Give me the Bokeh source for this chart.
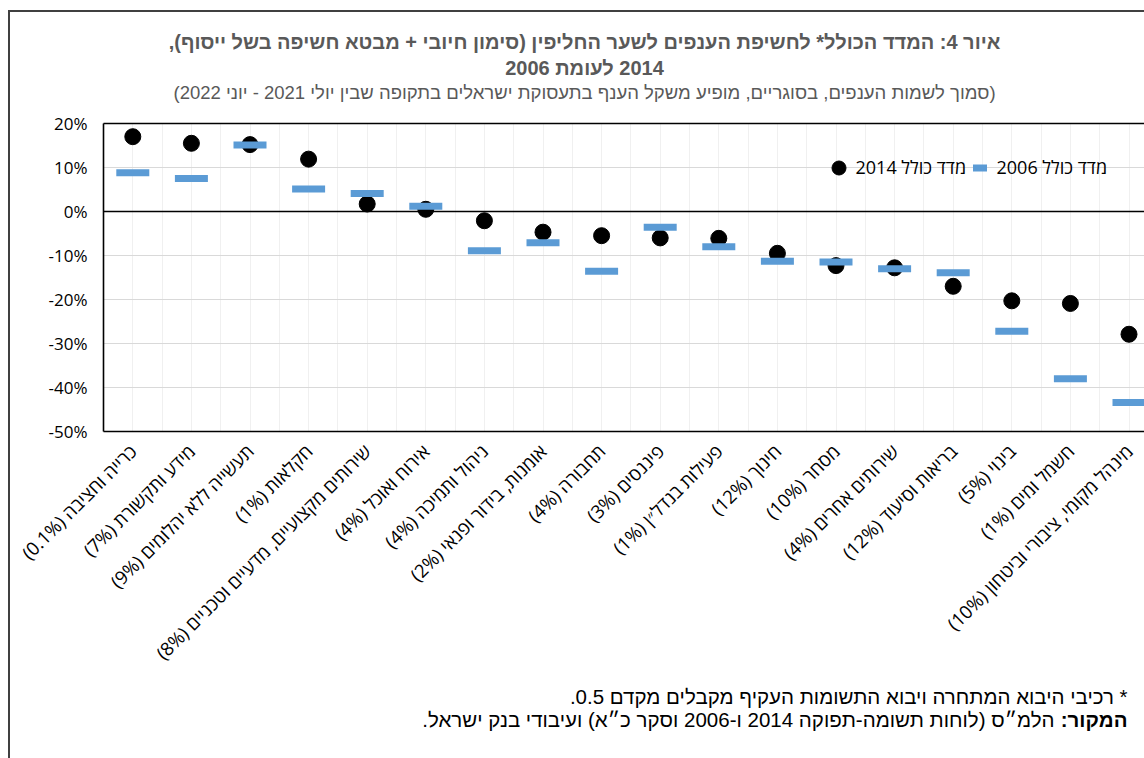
import math

from bokeh.embed import file_html
from bokeh.models import (ColumnDataSource, FixedTicker, Label, Legend, LegendItem,
                          LinearAxis, PrintfTickFormatter, Range1d, Span)
from bokeh.plotting import figure
from bokeh.resources import INLINE

# ---- data -------------------------------------------------------------
sectors = [
    "כרייה וחציבה",
    "מידע ותקשורת",
    "תעשייה ללא יהלומים",
    "חקלאות",
    "שירותים מקצועיים, מדעיים וטכניים",
    "אירוח ואוכל",
    "ניהול ותמיכה",
    "אומנות, בידור ופנאי",
    "תחבורה",
    "פיננסים",
    "פעילות בנדל״ן",
    "חינוך",
    "מסחר",
    "שירותים אחרים",
    "בריאות וסיעוד",
    "בינוי",
    "חשמל ומים",
    "מינהל מקומי, ציבורי וביטחון",
]
employment_share = ["0.1%", "7%", "9%", "1%", "8%", "4%", "4%", "2%", "4%",
                    "3%", "1%", "12%", "10%", "4%", "12%", "5%", "1%", "10%"]
index_2014 = [17.0, 15.5, 15.2, 11.9, 1.7, 0.5, -2.1, -4.7, -5.5,
              -6.0, -6.1, -9.5, -12.3, -12.8, -17.0, -20.3, -20.9, -27.9]
index_2006 = [8.8, 7.5, 15.1, 5.1, 4.1, 1.2, -8.9, -7.1, -13.6,
              -3.6, -8.0, -11.3, -11.5, -13.0, -13.9, -27.2, -38.0, -43.4]
y_ticks = [-50, -40, -30, -20, -10, 0, 10, 20]

title_line1 = "איור 4: המדד הכולל* לחשיפת הענפים לשער החליפין (סימון חיובי + מבטא חשיפה בשל ייסוף),"
title_line2 = "2014 לעומת 2006"
subtitle = "(סמוך לשמות הענפים, בסוגריים, מופיע משקל הענף בתעסוקת ישראלים בתקופה שבין יולי 2021 - יוני 2022)"
legend_2014 = "מדד כולל 2014"
legend_2006 = "מדד כולל 2006"
note_star = "* רכיבי היבוא המתחרה ויבוא התשומות העקיף מקבלים מקדם 0.5."
note_source_head = "המקור:"
note_source_body = "הלמ״ס (לוחות תשומה-תפוקה 2014 ו-2006 וסקר כ״א) ועיבודי בנק ישראל."

RLE, PDF = "\u202b", "\u202c"


def rtl(s):
    """Wrap a Hebrew string in a right-to-left embedding."""
    return RLE + s + PDF


# ---- geometry ---------------------------------------------------------
W, H = 1144, 758
FRAME_L, FRAME_T, FRAME_B = 103, 123, 431
STEP = 58.6                      # pixels per sector
n = len(sectors)
x_pos = list(range(n))
x_end = -0.5 + (W - FRAME_L) / STEP

LABEL_FONT = "Open Sans"
TITLE_FONT = "Liberation Sans"
BLUE = "#5B9BD5"
EDGE = "#404040"

src = ColumnDataSource(dict(x=x_pos, y14=index_2014, y06=index_2006))

p = figure(width=W, height=H, output_backend="svg", toolbar_location=None,
           x_range=Range1d(-0.5, x_end), y_range=Range1d(min(y_ticks), max(y_ticks)),
           min_border_left=FRAME_L, min_border_right=0,
           min_border_top=FRAME_T, min_border_bottom=H - FRAME_B)
p.outline_line_color = None
p.background_fill_color = "white"
p.border_fill_color = None

# outer chart border (left and top edges; the rest runs off the page)
p.styles = {
    "background-color": "white",
    "background-image": f"linear-gradient({EDGE}, {EDGE}), linear-gradient({EDGE}, {EDGE})",
    "background-size": "2px 100%, 100% 2px",
    "background-position": "8px 10px, 8px 10px",
    "background-repeat": "no-repeat",
}

# grid: light verticals at sector centres and boundaries, grey horizontals
p.xgrid.ticker = FixedTicker(ticks=[i / 2 - 0.5 for i in range(2 * n + 1)])
p.xgrid.grid_line_color = "#F0F0F0"
p.ygrid.ticker = FixedTicker(ticks=y_ticks)
p.ygrid.grid_line_color = "#D9D9D9"
p.ygrid.grid_line_width = 1.2

# y axis
p.yaxis.ticker = FixedTicker(ticks=y_ticks)
p.yaxis.formatter = PrintfTickFormatter(format="%d%%")
p.yaxis.major_tick_line_color = None
p.yaxis.minor_tick_line_color = None
p.yaxis.axis_line_color = "black"
p.yaxis.axis_line_width = 1.6
p.yaxis.major_label_standoff = 10
p.yaxis.major_label_text_font = LABEL_FONT
p.yaxis.major_label_text_font_size = "17px"
p.yaxis.major_label_text_color = "black"

# x axis with rotated sector names
p.xaxis.ticker = FixedTicker(ticks=x_pos)
p.xaxis.major_label_overrides = {i: rtl(f"{s} ({w})") for i, (s, w) in
                                 enumerate(zip(sectors, employment_share))}
p.xaxis.major_label_orientation = math.pi / 4
p.xaxis.major_tick_line_color = None
p.xaxis.minor_tick_line_color = None
p.xaxis.axis_line_color = "black"
p.xaxis.axis_line_width = 1.6
p.xaxis.major_label_standoff = 10
p.xaxis.major_label_text_font = LABEL_FONT
p.xaxis.major_label_text_font_size = "18.5px"
p.xaxis.major_label_text_color = "black"

# top border of the plot area
top = LinearAxis(ticker=FixedTicker(ticks=[]), axis_line_color="black",
                 axis_line_width=1.6, major_tick_line_color=None,
                 minor_tick_line_color=None, major_label_standoff=0)
p.add_layout(top, "above")

p.add_layout(Span(location=0, dimension="width", line_color="black", line_width=1.6))

# markers
r14 = p.scatter("x", "y14", source=src, size=16, fill_color="black", line_color="black")
r06 = p.scatter("x", "y06", source=src, marker="dash", size=33, line_width=7,
                line_color=BLUE)

# legends (one per item so each can be placed on its own)
LEG_Y = 167
GLYPH = 35
for renderer, text, cx in ((r14, legend_2014, 838), (r06, legend_2006, 979)):
    leg = Legend(items=[LegendItem(label=rtl(text), renderers=[renderer])],
                 location=(cx - GLYPH / 2 - FRAME_L, FRAME_B - (LEG_Y + GLYPH / 2)),
                 glyph_width=GLYPH, glyph_height=GLYPH, label_standoff=0,
                 padding=0, margin=0, border_line_color=None,
                 background_fill_alpha=0, label_text_font=LABEL_FONT,
                 label_text_font_size="18px", label_text_color="black")
    p.add_layout(leg)


# ---- texts outside the plot area (page pixel positions) ----------------
def add_text(side, text, x, y, align, size, bold=False, color="black", font=TITLE_FONT):
    p.add_layout(Label(text=rtl(text), x=x, y=y, x_units="canvas", y_units="canvas",
                       text_align=align, text_baseline="middle",
                       text_font=font, text_font_size=size,
                       text_font_style="bold" if bold else "normal",
                       text_color=color), side)


CX = 584
add_text("above", title_line1, CX, 41, "center", "20px", bold=True, color="#595959")
add_text("above", title_line2, CX, 67, "center", "20px", bold=True, color="#595959")
add_text("above", subtitle, CX, 92, "center", "18.5px", color="#595959")
add_text("below", note_star, 1127, 696, "right", "20.5px")
add_text("below", note_source_head, 1127, 719, "right", "20.5px", bold=True)
add_text("below", note_source_body, 1054, 719, "right", "20.5px")

open("out.html", "w").write(file_html(p, INLINE))
